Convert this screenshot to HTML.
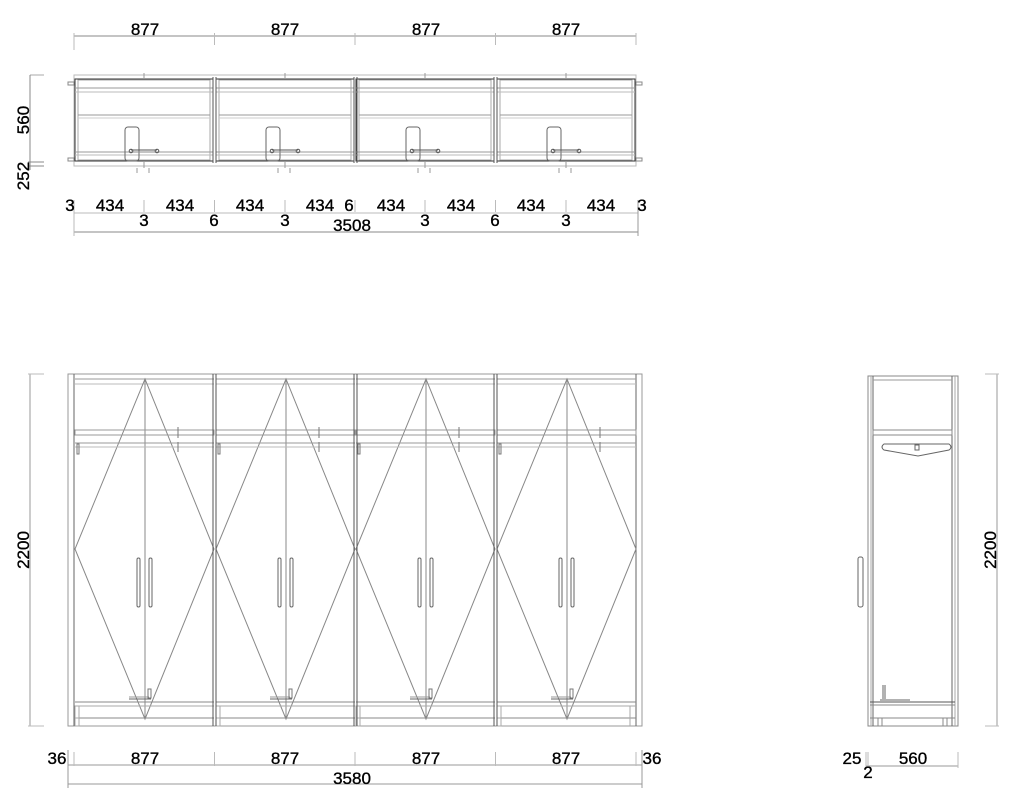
<!DOCTYPE html>
<html><head><meta charset="utf-8"><style>
html,body{margin:0;padding:0;background:#fff;}
svg{display:block;}
text{font-family:"Liberation Sans",sans-serif;font-size:17px;fill:#000;stroke:#000;stroke-width:0.35;}
</style></head><body>
<svg width="1024" height="798" viewBox="0 0 1024 798" xmlns="http://www.w3.org/2000/svg">
<defs>
<g id="pm" fill="none" stroke-width="1">
  <rect x="1" y="79" width="138" height="82" stroke="#333"/>
  <rect x="4" y="80" width="132" height="80" stroke="#aaa"/>
  <line x1="1" y1="88" x2="139" y2="88" stroke="#999"/>
  <line x1="1" y1="92" x2="139" y2="92" stroke="#bbb"/>
  <line x1="4" y1="115" x2="136" y2="115" stroke="#999"/>
  <line x1="4" y1="118" x2="136" y2="118" stroke="#ccc"/>
  <line x1="1" y1="152" x2="139" y2="152" stroke="#999"/>
  <line x1="1" y1="155" x2="139" y2="155" stroke="#bbb"/>
  <line x1="70" y1="73" x2="70" y2="79" stroke="#999"/>
  <line x1="70" y1="161" x2="70" y2="168" stroke="#999"/>
  <rect x="51" y="127" width="14" height="34" rx="3" stroke="#666"/>
  <line x1="57" y1="150" x2="83" y2="150" stroke="#555"/>
  <line x1="57" y1="152" x2="83" y2="152" stroke="#888"/>
  <circle cx="57" cy="151" r="1.8" stroke="#555"/>
  <circle cx="83" cy="151" r="1.8" stroke="#555"/>
  <line x1="63" y1="168" x2="63" y2="173" stroke="#999"/>
  <line x1="75" y1="168" x2="75" y2="173" stroke="#999"/>
</g>
<g id="fm" fill="none" stroke-width="1">
  <line x1="1" y1="379" x2="140" y2="379" stroke="#999"/>
  <line x1="1" y1="384" x2="140" y2="384" stroke="#bbb"/>
  <polygon points="71,379 140,549 71,719 1,549" stroke="#888"/>
  <line x1="71" y1="379" x2="71" y2="719" stroke="#888"/>
  <rect x="1" y="430" width="139" height="5" stroke="#999"/>
  <line x1="1" y1="443" x2="140" y2="443" stroke="#999"/>
  <line x1="1" y1="447" x2="140" y2="447" stroke="#bbb"/>
  <line x1="104" y1="427" x2="104" y2="438" stroke="#777"/>
  <line x1="104" y1="442" x2="104" y2="452" stroke="#777"/>
  <rect x="3" y="444" width="2" height="10" stroke="#777"/>
  <rect x="63" y="558" width="3" height="49" rx="1.5" stroke="#666"/>
  <rect x="75" y="558" width="3" height="49" rx="1.5" stroke="#666"/>
  <line x1="55" y1="699" x2="77" y2="699" stroke="#666"/>
  <line x1="55" y1="697" x2="75" y2="697" stroke="#999"/>
  <rect x="74" y="689" width="3" height="9" stroke="#777"/>
  <line x1="1" y1="702" x2="140" y2="702" stroke="#888"/>
  <line x1="1" y1="706" x2="140" y2="706" stroke="#aaa"/>
  <line x1="1" y1="718" x2="140" y2="718" stroke="#888"/>
  <rect x="1" y="706" width="4" height="12" stroke="#aaa"/>
  <rect x="1" y="718" width="4" height="8" stroke="#aaa"/>
</g>
</defs>

<!-- TOP PLAN -->
<g stroke="#888" fill="none">
  <line x1="74" y1="36" x2="636" y2="36"/>
  <line x1="74" y1="33" x2="74" y2="50" stroke="#bbb"/>
  <line x1="214.5" y1="33" x2="214.5" y2="45" stroke="#bbb"/>
  <line x1="355" y1="33" x2="355" y2="45" stroke="#bbb"/>
  <line x1="495.5" y1="33" x2="495.5" y2="45" stroke="#bbb"/>
  <line x1="636" y1="33" x2="636" y2="45" stroke="#bbb"/>
  <rect x="74" y="75" width="562" height="91" stroke="#bbb"/>
  <rect x="68" y="82" width="6" height="3" stroke="#888"/>
  <rect x="68" y="158" width="6" height="3" stroke="#888"/>
  <rect x="636" y="82" width="6" height="3" stroke="#888"/>
  <rect x="636" y="158" width="6" height="3" stroke="#888"/>
  <line x1="30" y1="75" x2="44" y2="75" stroke="#aaa"/>
  <line x1="30" y1="75" x2="30" y2="170"/>
  <line x1="28" y1="162" x2="44" y2="162"/>
  <line x1="28" y1="166" x2="44" y2="166"/>
  <line x1="74" y1="213" x2="638" y2="213" stroke="#bbb"/>
  <line x1="74" y1="232" x2="638" y2="232"/>
  <line x1="74" y1="200" x2="74" y2="236" stroke="#bbb"/>
  <line x1="638" y1="200" x2="638" y2="236" stroke="#999"/>
  <line x1="144" y1="200" x2="144" y2="212" stroke="#bbb"/>
  <line x1="214.5" y1="200" x2="214.5" y2="212" stroke="#bbb"/>
  <line x1="285" y1="200" x2="285" y2="212" stroke="#bbb"/>
  <line x1="355" y1="200" x2="355" y2="212" stroke="#bbb"/>
  <line x1="425" y1="200" x2="425" y2="212" stroke="#bbb"/>
  <line x1="495.5" y1="200" x2="495.5" y2="212" stroke="#bbb"/>
  <line x1="566" y1="200" x2="566" y2="212" stroke="#bbb"/>
</g>
<use href="#pm" x="74"/><use href="#pm" x="215"/><use href="#pm" x="355"/><use href="#pm" x="496"/>
<g stroke="#555" fill="none">
  <line x1="213" y1="77" x2="213" y2="163"/><line x1="216" y1="77" x2="216" y2="163"/>
  <line x1="354" y1="77" x2="354" y2="163"/><line x1="357" y1="77" x2="357" y2="163"/>
  <line x1="494" y1="77" x2="494" y2="163"/><line x1="497" y1="77" x2="497" y2="163"/>
</g>
<text x="145" y="35" text-anchor="middle">877</text>
<text x="285" y="35" text-anchor="middle">877</text>
<text x="426" y="35" text-anchor="middle">877</text>
<text x="566" y="35" text-anchor="middle">877</text>
<text transform="translate(29,120) rotate(-90)" text-anchor="middle">560</text>
<text transform="translate(29,176) rotate(-90)" text-anchor="middle">252</text>
<text x="70" y="211" text-anchor="middle">3</text>
<text x="110" y="211" text-anchor="middle">434</text>
<text x="180" y="211" text-anchor="middle">434</text>
<text x="250" y="211" text-anchor="middle">434</text>
<text x="320" y="211" text-anchor="middle">434</text>
<text x="349" y="211" text-anchor="middle">6</text>
<text x="391" y="211" text-anchor="middle">434</text>
<text x="461" y="211" text-anchor="middle">434</text>
<text x="531" y="211" text-anchor="middle">434</text>
<text x="601" y="211" text-anchor="middle">434</text>
<text x="642" y="211" text-anchor="middle">3</text>
<text x="144" y="226" text-anchor="middle">3</text>
<text x="214" y="226" text-anchor="middle">6</text>
<text x="285" y="226" text-anchor="middle">3</text>
<text x="425" y="226" text-anchor="middle">3</text>
<text x="495" y="226" text-anchor="middle">6</text>
<text x="566" y="226" text-anchor="middle">3</text>
<text x="352" y="231" text-anchor="middle">3508</text>

<!-- FRONT ELEVATION -->
<g fill="none">
  <rect x="68" y="374" width="574" height="352" stroke="#999"/>
  <line x1="74" y1="374" x2="74" y2="726" stroke="#666"/>
  <line x1="636" y1="374" x2="636" y2="726" stroke="#666"/>
  <line x1="30" y1="374" x2="30" y2="726" stroke="#999"/>
  <line x1="28" y1="374" x2="44" y2="374" stroke="#bbb"/>
  <line x1="28" y1="726" x2="44" y2="726" stroke="#bbb"/>
</g>
<use href="#fm" x="74"/><use href="#fm" x="215"/><use href="#fm" x="355"/><use href="#fm" x="496"/>
<g stroke="#555" fill="none">
  <line x1="213" y1="374" x2="213" y2="726"/><line x1="216" y1="374" x2="216" y2="726"/>
  <line x1="354" y1="374" x2="354" y2="726"/><line x1="357" y1="374" x2="357" y2="726"/>
  <line x1="494" y1="374" x2="494" y2="726"/><line x1="497" y1="374" x2="497" y2="726"/>
  <line x1="630" y1="706" x2="630" y2="726" stroke="#aaa"/>
</g>
<g stroke="#999" fill="none">
  <line x1="68" y1="765" x2="642" y2="765"/>
  <line x1="68" y1="784" x2="642" y2="784"/>
  <line x1="68" y1="750" x2="68" y2="788"/>
  <line x1="74" y1="752" x2="74" y2="766" stroke="#bbb"/>
  <line x1="214.5" y1="752" x2="214.5" y2="766" stroke="#bbb"/>
  <line x1="355" y1="752" x2="355" y2="766" stroke="#bbb"/>
  <line x1="495.5" y1="752" x2="495.5" y2="766" stroke="#bbb"/>
  <line x1="636" y1="752" x2="636" y2="766" stroke="#bbb"/>
  <line x1="642" y1="750" x2="642" y2="788"/>
</g>
<text transform="translate(29,550) rotate(-90)" text-anchor="middle">2200</text>
<text x="57" y="764" text-anchor="middle">36</text>
<text x="145" y="764" text-anchor="middle">877</text>
<text x="285" y="764" text-anchor="middle">877</text>
<text x="426" y="764" text-anchor="middle">877</text>
<text x="566" y="764" text-anchor="middle">877</text>
<text x="652" y="764" text-anchor="middle">36</text>
<text x="352" y="784" text-anchor="middle">3580</text>

<!-- SIDE VIEW -->
<g fill="none">
  <rect x="868" y="376" width="90" height="350" stroke="#888"/>
  <line x1="871" y1="376" x2="871" y2="726" stroke="#aaa"/>
  <line x1="873" y1="376" x2="873" y2="726" stroke="#666"/>
  <line x1="952" y1="376" x2="952" y2="726" stroke="#666"/>
  <line x1="955" y1="376" x2="955" y2="726" stroke="#aaa"/>
  <line x1="873" y1="380" x2="952" y2="380" stroke="#999"/>
  <rect x="873" y="430" width="79" height="5" stroke="#888"/>
  <path d="M884,444 L949,444 Q953,447 949,450 L918,456 L884,450 Q880,447 884,444 Z" stroke="#666"/>
  <rect x="915" y="445" width="4" height="5" stroke="#666"/>
  <rect x="858" y="557" width="5" height="50" rx="2" stroke="#666"/>
  <line x1="883" y1="685" x2="883" y2="699" stroke="#666"/>
  <line x1="885" y1="685" x2="885" y2="699" stroke="#666"/>
  <line x1="880" y1="700" x2="910" y2="700" stroke="#666"/>
  <line x1="870" y1="702" x2="955" y2="702" stroke="#555"/>
  <line x1="870" y1="705" x2="955" y2="705" stroke="#888"/>
  <line x1="870" y1="718" x2="955" y2="718" stroke="#888"/>
  <line x1="878" y1="718" x2="878" y2="726" stroke="#888"/>
  <line x1="882" y1="718" x2="882" y2="726" stroke="#888"/>
  <line x1="943" y1="718" x2="943" y2="726" stroke="#888"/>
  <line x1="947" y1="718" x2="947" y2="726" stroke="#888"/>
  <line x1="997" y1="374" x2="997" y2="726" stroke="#999"/>
  <line x1="985" y1="374" x2="999" y2="374" stroke="#bbb"/>
  <line x1="985" y1="726" x2="999" y2="726" stroke="#bbb"/>
  <line x1="866" y1="766" x2="958" y2="766" stroke="#999"/>
  <line x1="866" y1="752" x2="866" y2="768" stroke="#bbb"/>
  <line x1="868" y1="752" x2="868" y2="768" stroke="#bbb"/>
  <line x1="958" y1="752" x2="958" y2="768" stroke="#bbb"/>
</g>
<text transform="translate(996,550) rotate(-90)" text-anchor="middle">2200</text>
<text x="852" y="764" text-anchor="middle">25</text>
<text x="868" y="778" text-anchor="middle">2</text>
<text x="913" y="764" text-anchor="middle">560</text>
</svg>
</body></html>
